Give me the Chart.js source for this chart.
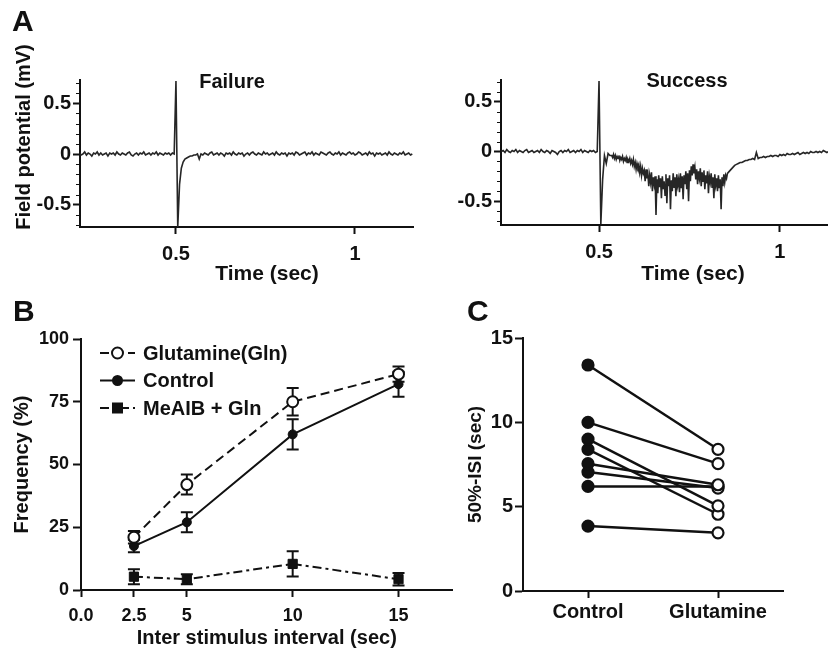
<!DOCTYPE html>
<html>
<head>
<meta charset="utf-8">
<script src="https://cdn.jsdelivr.net/npm/chart.js@4.4.1/dist/chart.umd.min.js"></script>
<style>
  body { margin: 0; background: #fff; }
  #fig { position: relative; width: 828px; height: 650px; overflow: hidden;
         font-family: 'Liberation Sans', Arial, sans-serif; font-weight: bold; color: #111; }
  #fig canvas { position: absolute; }
  .lbl { position: absolute; white-space: nowrap; line-height: 1; transform: translate(-50%, -50%); }
  .panel { position: absolute; font-size: 30px; line-height: 1; }
</style>
</head>
<body>
<div id="fig">
  <canvas id="failureChart" style="left:0;top:0" width="420" height="290"></canvas>
  <canvas id="successChart" style="left:420px;top:0" width="408" height="290"></canvas>
  <canvas id="freqChart" style="left:0;top:290px" width="460" height="360"></canvas>
  <canvas id="isiChart" style="left:440px;top:290px" width="388" height="360"></canvas>

  <div class="panel" style="left:12px;top:6px">A</div>
  <div class="panel" style="left:13px;top:296px">B</div>
  <div class="panel" style="left:467px;top:296px">C</div>

  <div class="lbl" style="left:232px;top:81px;font-size:20px">Failure</div>
  <div class="lbl" style="left:687px;top:80px;font-size:20px">Success</div>
  <div class="lbl" style="left:23px;top:137px;font-size:20px;transform:translate(-50%,-50%) rotate(-90deg)">Field potential (mV)</div>
  <div class="lbl" style="left:267px;top:272px;font-size:21px">Time (sec)</div>
  <div class="lbl" style="left:693px;top:272px;font-size:21px">Time (sec)</div>
</div>
<script>
const FONT = "'Liberation Sans', Arial, sans-serif";
const INK = '#111';

// --- A: field potential traces (mV) ---
// failure trace, one sample every 5 ms from 0.23 s
const failureStart = 0.23;
const failureStep = 0.005;
const failureBefore = [
  0.01, -0.01, 0.00, 0.02, -0.01, 0.01, 0.00, -0.02, 0.01, 0.00,
  0.02, -0.01, 0.01, -0.01, 0.00, 0.01, -0.02, 0.01, 0.00, 0.01,
  -0.01, 0.02, 0.00, -0.01, 0.01, 0.00, -0.01, 0.01, 0.02, -0.01,
  -0.02, 0.00, 0.01, -0.01, 0.01, 0.00, 0.02, -0.01, 0.00, 0.01,
  -0.01, 0.01, 0.00, 0.02, -0.01, 0.01, 0.00, -0.01, 0.01, 0.00,
  0.01, -0.01, 0.01, 0.00
];
// 0.500 - 0.565 s, stimulus artifact
const failureStim = [0.72, -0.72, -0.30, -0.14, -0.08, -0.05, -0.04, -0.03, -0.02, -0.02, -0.01, -0.01, 0.00, -0.05];
const failureAfter = [
  0.00, -0.01, 0.01, 0.00, -0.01, 0.01, 0.02, -0.01, 0.00, 0.01,
  -0.01, 0.01, 0.00, -0.02, 0.01, 0.00, 0.01, -0.01, 0.02, 0.00,
  -0.01, 0.01, 0.00, 0.01, -0.02, 0.00, 0.01, -0.01, 0.01, 0.02,
  0.00, -0.01, 0.01, 0.00, -0.01, 0.02, 0.00, 0.01, -0.01, 0.00,
  0.01, -0.01, 0.02, 0.00, -0.01, 0.01, 0.00, 0.01, -0.02, 0.01,
  0.00, 0.01, -0.01, 0.02, 0.01, -0.01, 0.00, 0.01, 0.02, -0.01,
  0.01, 0.00, 0.02, -0.01, 0.01, 0.00, -0.01, 0.02, 0.01, 0.00,
  -0.01, 0.01, 0.02, 0.00, -0.01, 0.01, 0.00, 0.02, -0.01, 0.01,
  0.00, -0.01, 0.01, 0.02, 0.00, 0.01, -0.01, 0.00, 0.02, 0.01,
  -0.01, 0.00, 0.01, -0.01, 0.02, 0.00, 0.01, -0.02, 0.01, 0.00,
  0.01, -0.01, 0.00, 0.01, -0.01, 0.02, 0.00, -0.01, 0.01, 0.00,
  -0.01, 0.01, 0.00, 0.02, -0.01, 0.00, 0.01, -0.01, 0.00
];

// success trace: 0.230 - 0.530 s every 5 ms
const successStart = 0.23;
const successStep = 0.005;
const successBefore = [
  0.00, 0.01, -0.01, 0.02, 0.00, -0.01, 0.01, 0.00, 0.02, -0.01,
  0.01, 0.00, -0.01, 0.01, 0.02, -0.01, 0.00, 0.01, -0.01, 0.00,
  0.01, -0.01, 0.02, 0.00, -0.01, 0.01, 0.00, -0.02, 0.01, 0.00,
  -0.01, -0.03, 0.00, 0.01, -0.01, 0.01, 0.00, 0.02, -0.01, 0.00,
  0.01, -0.01, 0.01, 0.00, 0.02, -0.01, 0.01, 0.00, -0.01, 0.01,
  0.00, 0.01, -0.01, 0.00
];
const successStim = [0.71, -0.73, -0.28, -0.04, -0.12, -0.02, -0.04];
// 0.535 - 0.855 s every 2.5 ms (the noisy response)
const responseStart = 0.535;
const responseStep = 0.0025;
const successResponse = [
  -0.04, -0.06, -0.03, -0.07, -0.04, -0.08, -0.05, -0.07, -0.04, -0.09,
  -0.06, -0.08, -0.05, -0.10, -0.07, -0.09, -0.06, -0.11, -0.08, -0.10,
  -0.07, -0.12, -0.09, -0.13, -0.08, -0.15, -0.11, -0.18, -0.12, -0.16,
  -0.13, -0.21, -0.15, -0.24, -0.17, -0.22, -0.19, -0.30, -0.18, -0.27,
  -0.22, -0.35, -0.24, -0.31, -0.21, -0.40, -0.26, -0.33, -0.25, -0.64,
  -0.28, -0.42, -0.24, -0.36, -0.27, -0.47, -0.25, -0.38, -0.30, -0.44,
  -0.23, -0.52, -0.27, -0.35, -0.24, -0.58, -0.29, -0.40, -0.22, -0.36,
  -0.26, -0.45, -0.23, -0.34, -0.28, -0.41, -0.22, -0.37, -0.25, -0.48,
  -0.24, -0.33, -0.20, -0.38, -0.22, -0.50, -0.19, -0.30, -0.15, -0.24,
  -0.13, -0.22, -0.16, -0.28, -0.18, -0.33, -0.20, -0.27, -0.17, -0.35,
  -0.21, -0.30, -0.19, -0.38, -0.24, -0.32, -0.20, -0.42, -0.25, -0.31,
  -0.22, -0.36, -0.26, -0.47, -0.23, -0.34, -0.27, -0.40, -0.24, -0.37,
  -0.28, -0.58, -0.26, -0.35, -0.23, -0.31, -0.24, -0.27, -0.22
];
// 0.860 s onwards every 5 ms (recovery)
const recoveryStart = 0.86;
const recoveryStep = 0.005;
const successAfter = [
  -0.20, -0.18, -0.16, -0.14, -0.13, -0.12, -0.11, -0.11, -0.10, -0.09,
  -0.09, -0.08, -0.08, -0.07, -0.08, -0.01, -0.07, -0.06, -0.06, -0.05,
  -0.06, -0.05, -0.05, -0.04, -0.05, -0.04, -0.04, -0.05, -0.03, -0.04,
  -0.03, -0.04, -0.02, -0.03, -0.03, -0.02, -0.03, -0.02, -0.01, -0.03,
  -0.02, -0.01, -0.02, -0.01, -0.02, 0.00, -0.01, -0.01, 0.00, -0.01,
  0.00, -0.01, 0.01, 0.00, -0.01, 0.00
];

const timeTicks = [0.5, 1];

// --- B: frequency vs inter stimulus interval ---
const intervals = [2.5, 5, 10, 15];
const intervalTicks = [0, 2.5, 5, 10, 15];
const intervalLabels = ['0.0', '2.5', '5', '10', '15'];
const glnFreq = [21, 42, 75, 86];
const glnErr = [2.5, 4, 5.5, 3];
const controlFreq = [17.5, 27, 62, 82];
const controlErr = [2.5, 4, 6, 5];
const meaibFreq = [5.3, 4.3, 10.4, 4.3];
const meaibErr = [3, 2, 5, 2.5];

// --- C: 50%-ISI, paired ---
const isiGroups = ['Control', 'Glutamine'];
const isiControl = [13.4, 10.0, 9.0, 8.4, 7.55, 7.05, 6.2, 3.85];
const isiGlutamine = [8.4, 7.55, 5.05, 4.55, 6.3, 6.1, 6.2, 3.45];

const tickFont = size => ({ family: FONT, size: size, weight: 'bold' });
const sampled = (start, step, values) => values.map((v, i) => ({ x: start + i * step, y: v }));

const failurePoints = sampled(failureStart, failureStep, [...failureBefore, ...failureStim, ...failureAfter]);
const successPoints = [
  ...sampled(successStart, successStep, [...successBefore, ...successStim]),
  ...sampled(responseStart, responseStep, successResponse),
  ...sampled(recoveryStart, recoveryStep, successAfter)
];

// short minor ticks every 0.1 mV on the trace y axes
const minorTicks = {
  id: 'minorTicks',
  afterDraw(chart) {
    const { ctx, scales: { y } } = chart;
    ctx.save();
    ctx.strokeStyle = INK;
    ctx.lineWidth = 1;
    for (let k = -7; k <= 7; k++) {
      if (k % 5 === 0) continue;
      const py = Math.round(y.getPixelForValue(k / 10)) + 0.5;
      ctx.beginPath();
      ctx.moveTo(y.right - 4, py);
      ctx.lineTo(y.right, py);
      ctx.stroke();
    }
    ctx.restore();
  }
};

function traceChart(id, points, xMin, xMax, yMin, yMax, yWidth, xHeight, pad) {
  return new Chart(document.getElementById(id), {
    type: 'scatter',
    data: { datasets: [{ data: points, showLine: true, borderColor: '#262626', borderWidth: 1.6, pointRadius: 0 }] },
    options: {
      responsive: false, animation: false, devicePixelRatio: 1,
      layout: { padding: pad },
      plugins: { legend: { display: false }, tooltip: { enabled: false } },
      scales: {
        x: {
          type: 'linear', min: xMin, max: xMax,
          afterFit: s => { s.height = xHeight; },
          afterBuildTicks: s => { s.ticks = timeTicks.map(v => ({ value: v })); },
          ticks: { color: INK, font: tickFont(20), padding: 8, maxRotation: 0, callback: v => String(v) },
          grid: { drawOnChartArea: false, tickLength: 7, tickWidth: 2, tickColor: INK },
          border: { color: INK, width: 2 }
        },
        y: {
          min: yMin, max: yMax,
          afterFit: s => { s.width = yWidth; },
          ticks: { stepSize: 0.5, includeBounds: false, color: INK, font: tickFont(20), padding: 2,
                   callback: v => (v === 0 ? '0' : String(v)) },
          grid: { drawOnChartArea: false, tickLength: 7, tickWidth: 2, tickColor: INK },
          border: { color: INK, width: 2 }
        }
      }
    },
    plugins: [minorTicks]
  });
}

traceChart('failureChart', failurePoints, 0.232, 1.162, -0.72, 0.73, 80, 63, { top: 80, right: 7, bottom: 0, left: 0 });
traceChart('successChart', successPoints, 0.229, 1.133, -0.74, 0.72, 81, 65, { top: 80, right: 0, bottom: 0, left: 0 });

// error bars drawn through the chart's own scales
const errorBars = {
  id: 'errorBars',
  beforeDatasetsDraw(chart) {
    const { ctx, scales: { x, y } } = chart;
    ctx.save();
    ctx.strokeStyle = INK;
    ctx.lineWidth = 2;
    chart.data.datasets.forEach(ds => {
      ds.data.forEach((p, i) => {
        const px = x.getPixelForValue(p.x);
        const top = y.getPixelForValue(p.y + ds.errors[i]);
        const bot = y.getPixelForValue(p.y - ds.errors[i]);
        ctx.beginPath();
        ctx.moveTo(px, top); ctx.lineTo(px, bot);
        ctx.moveTo(px - 6, top); ctx.lineTo(px + 6, top);
        ctx.moveTo(px - 6, bot); ctx.lineTo(px + 6, bot);
        ctx.stroke();
      });
    });
    ctx.restore();
  }
};

// legend with line + marker, like the original figure
const lineLegend = {
  id: 'lineLegend',
  afterDraw(chart) {
    const { ctx, chartArea } = chart;
    ctx.save();
    chart.data.datasets.forEach((ds, i) => {
      const y = chartArea.top + 14 + i * 27.5;
      const x0 = chartArea.left + 19, x1 = chartArea.left + 54, xm = (x0 + x1) / 2;
      ctx.strokeStyle = INK;
      ctx.lineWidth = 2;
      ctx.setLineDash(ds.borderDash || []);
      ctx.beginPath(); ctx.moveTo(x0, y); ctx.lineTo(x1, y); ctx.stroke();
      ctx.setLineDash([]);
      ctx.fillStyle = ds.pointBackgroundColor;
      ctx.beginPath();
      if (ds.pointStyle === 'rect') {
        ctx.rect(xm - 4.5, y - 4.5, 9, 9);
      } else {
        ctx.arc(xm, y, ds.pointRadius, 0, Math.PI * 2);
      }
      ctx.fill(); ctx.stroke();
      ctx.fillStyle = INK;
      ctx.font = 'bold 20px ' + FONT;
      ctx.textBaseline = 'middle';
      ctx.fillText(ds.label, chartArea.left + 62, y + 1);
    });
    ctx.restore();
  }
};

const toPoints = ys => intervals.map((x, i) => ({ x: x, y: ys[i] }));

new Chart(document.getElementById('freqChart'), {
  type: 'scatter',
  data: {
    datasets: [
      { label: 'Glutamine(Gln)', data: toPoints(glnFreq), errors: glnErr, showLine: true,
        borderColor: INK, borderWidth: 2, borderDash: [9, 5],
        pointStyle: 'circle', pointRadius: 5.5, pointBorderWidth: 2, pointBackgroundColor: '#fff', pointBorderColor: INK },
      { label: 'Control', data: toPoints(controlFreq), errors: controlErr, showLine: true,
        borderColor: INK, borderWidth: 2,
        pointStyle: 'circle', pointRadius: 4.5, pointBorderWidth: 1, pointBackgroundColor: INK, pointBorderColor: INK },
      { label: 'MeAIB + Gln', data: toPoints(meaibFreq), errors: meaibErr, showLine: true,
        borderColor: INK, borderWidth: 2, borderDash: [9, 4, 3, 4],
        pointStyle: 'rect', pointRadius: 6.5, pointBorderWidth: 1, pointBackgroundColor: INK, pointBorderColor: INK }
    ]
  },
  options: {
    responsive: false, animation: false, devicePixelRatio: 1,
    layout: { padding: { top: 49, right: 5, bottom: 0, left: 0 } },
    plugins: { legend: { display: false }, tooltip: { enabled: false } },
    scales: {
      x: {
        type: 'linear', min: 0, max: 17.55,
        afterFit: s => { s.height = 60; },
        afterBuildTicks: s => { s.ticks = intervalTicks.map(v => ({ value: v })); },
        ticks: { color: INK, font: tickFont(18), padding: 8, maxRotation: 0,
                 callback: v => intervalLabels[intervalTicks.indexOf(v)] },
        grid: { drawOnChartArea: false, tickLength: 7, tickWidth: 2, tickColor: INK },
        border: { color: INK, width: 2 },
        title: { display: true, text: 'Inter stimulus interval (sec)', color: INK,
                 font: tickFont(20), padding: { top: 0, bottom: 0 } }
      },
      y: {
        min: 0, max: 100,
        afterFit: s => { s.width = 81; },
        ticks: { stepSize: 25, color: INK, font: tickFont(18), padding: 4 },
        grid: { drawOnChartArea: false, tickLength: 8, tickWidth: 2, tickColor: INK },
        border: { color: INK, width: 2 },
        title: { display: true, text: 'Frequency (%)', color: INK,
                 font: tickFont(20), padding: { top: 10, bottom: 0 } }
      }
    }
  },
  plugins: [errorBars, lineLegend]
});

new Chart(document.getElementById('isiChart'), {
  type: 'scatter',
  data: {
    datasets: isiControl.map((c, i) => ({
      data: [{ x: 0, y: c }, { x: 1, y: isiGlutamine[i] }],
      showLine: true, borderColor: INK, borderWidth: 2.5,
      pointRadius: 5.5, pointBorderWidth: 2.2, pointBorderColor: INK,
      pointBackgroundColor: ctx => (ctx.dataIndex === 0 ? INK : '#fff')
    }))
  },
  options: {
    responsive: false, animation: false, devicePixelRatio: 1,
    layout: { padding: { top: 48, right: 45, bottom: 0, left: 0 } },
    plugins: { legend: { display: false }, tooltip: { enabled: false } },
    scales: {
      x: {
        type: 'linear', min: -0.5, max: 1.5,
        afterFit: s => { s.height = 59; },
        afterBuildTicks: s => { s.ticks = isiGroups.map((g, i) => ({ value: i })); },
        ticks: { color: INK, font: tickFont(20), padding: 2, maxRotation: 0, callback: v => isiGroups[v] },
        grid: { drawOnChartArea: false, tickLength: 7, tickWidth: 2, tickColor: INK },
        border: { color: INK, width: 2 }
      },
      y: {
        min: 0, max: 15,
        afterFit: s => { s.width = 83; },
        ticks: { stepSize: 5, color: INK, font: tickFont(20), padding: 2 },
        grid: { drawOnChartArea: false, tickLength: 8, tickWidth: 2, tickColor: INK },
        border: { color: INK, width: 2 },
        title: { display: true, text: '50%-ISI (sec)', color: INK,
                 font: tickFont(19), padding: { top: 24, bottom: 0 } }
      }
    }
  }
});
</script>
</body>
</html>
